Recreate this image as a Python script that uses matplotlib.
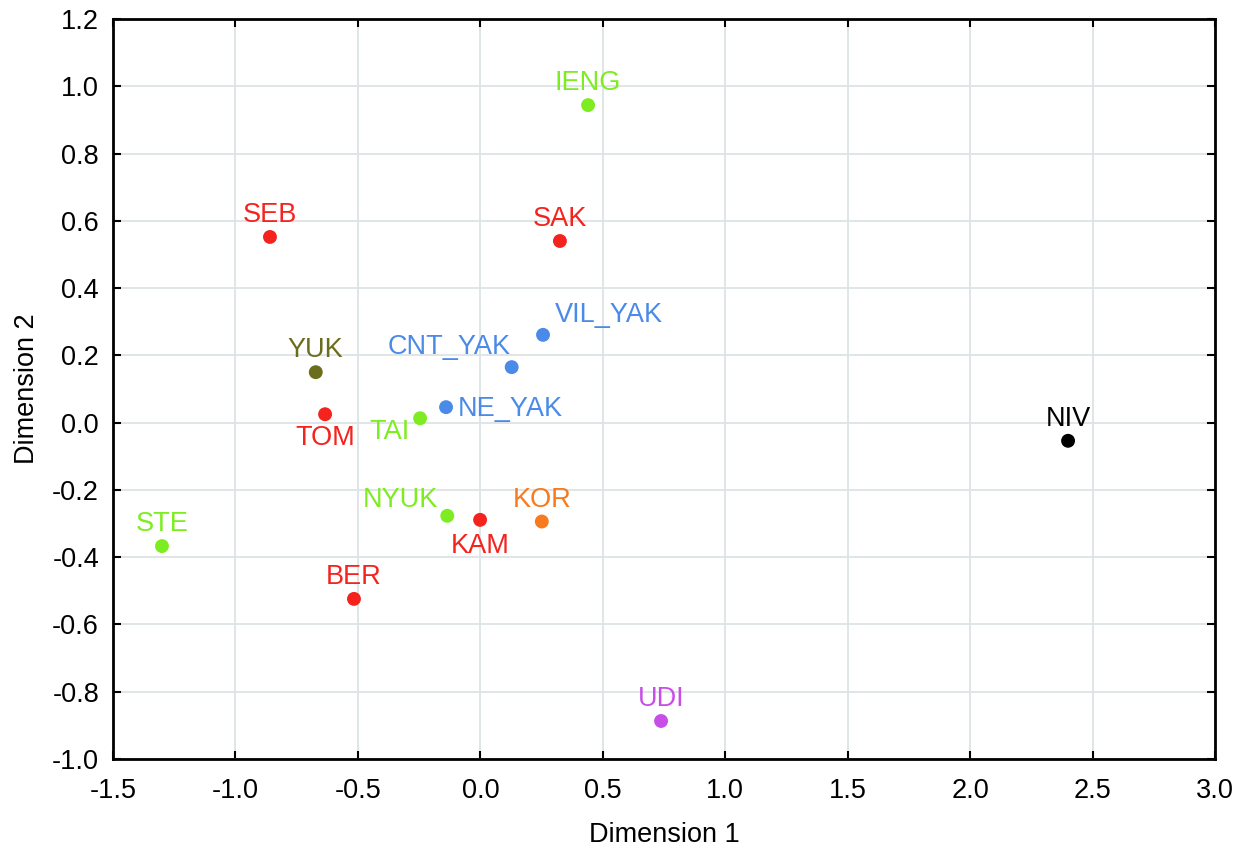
import matplotlib
matplotlib.use('Agg')
import matplotlib.pyplot as plt

# MDS coordinates
labels = ['IENG', 'SEB', 'SAK', 'VIL_YAK', 'CNT_YAK', 'YUK', 'NE_YAK', 'TOM',
          'TAI', 'NIV', 'NYUK', 'KAM', 'KOR', 'STE', 'BER', 'UDI']
dim1 = [0.440, -0.859, 0.325, 0.256, 0.128, -0.672, -0.140, -0.634,
        -0.246, 2.400, -0.135, -0.001, 0.251, -1.300, -0.516, 0.738]
dim2 = [0.944, 0.552, 0.540, 0.261, 0.165, 0.150, 0.046, 0.025,
        0.013, -0.054, -0.277, -0.289, -0.294, -0.367, -0.524, -0.887]
groups = ['green', 'red', 'red', 'blue', 'blue', 'olive', 'blue', 'red',
          'green', 'black', 'green', 'red', 'orange', 'green', 'red', 'magenta']

palette = {
    'green': '#7ded22',
    'red': '#f5231e',
    'blue': '#4a8ae8',
    'olive': '#6b6d1c',
    'orange': '#f77a1e',
    'magenta': '#c84ee8',
    'black': '#000000',
}

# where each label sits relative to its point (pixels, ha, va)
placement = {
    'IENG': (0, 9, 'center', 'bottom'),
    'SEB': (0, 9, 'center', 'bottom'),
    'SAK': (0, 9, 'center', 'bottom'),
    'VIL_YAK': (12, 7, 'left', 'bottom'),
    'CNT_YAK': (-1, 7, 'right', 'bottom'),
    'YUK': (0, 9, 'center', 'bottom'),
    'NE_YAK': (12, -2, 'left', 'center'),
    'TOM': (0, -11, 'center', 'top'),
    'TAI': (-10, -14, 'right', 'center'),
    'NIV': (0, 9, 'center', 'bottom'),
    'NYUK': (-9, 3, 'right', 'bottom'),
    'KAM': (0, -13, 'center', 'top'),
    'KOR': (0, 9, 'center', 'bottom'),
    'STE': (0, 9, 'center', 'bottom'),
    'BER': (0, 9, 'center', 'bottom'),
    'UDI': (0, 9, 'center', 'bottom'),
}

plt.rcParams['font.family'] = ['Liberation Sans', 'DejaVu Sans']
FS = 19.5

fig = plt.figure(figsize=(12.42, 8.48), dpi=100)
ax = fig.add_axes([113 / 1242, 1 - 759 / 848, (1215 - 113) / 1242, (759 - 19) / 848])

colors = [palette[g] for g in groups]
ax.scatter(dim1, dim2, s=100, c=colors, edgecolors='none', zorder=3)

for name, x, y, col in zip(labels, dim1, dim2, colors):
    dx, dy, ha, va = placement[name]
    ax.annotate(name, (x, y), xytext=(dx, dy), textcoords='offset pixels',
                ha=ha, va=va, color=col, fontsize=FS, zorder=4)

ax.set_xlim(-1.5, 3.0)
ax.set_ylim(-1.0, 1.2)
ax.set_xticks([-1.5 + 0.5 * i for i in range(10)])
ax.set_yticks([-1.0 + 0.2 * i for i in range(12)])
ax.xaxis.set_major_formatter(matplotlib.ticker.FormatStrFormatter('%.1f'))
ax.yaxis.set_major_formatter(matplotlib.ticker.FormatStrFormatter('%.1f'))
ax.grid(True, color='#dde3e5', linewidth=1.3, zorder=0)
ax.set_axisbelow(True)
ax.tick_params(direction='in', length=6, width=1.5, labelsize=FS,
               top=True, right=True)
ax.tick_params(axis='x', pad=14)
ax.tick_params(axis='y', pad=10)
for spine in ax.spines.values():
    spine.set_linewidth(2)

ax.set_xlabel('Dimension 1', fontsize=FS, labelpad=13)
ax.set_ylabel('Dimension 2', fontsize=FS, labelpad=9)

fig.savefig('out.png', dpi=100)
